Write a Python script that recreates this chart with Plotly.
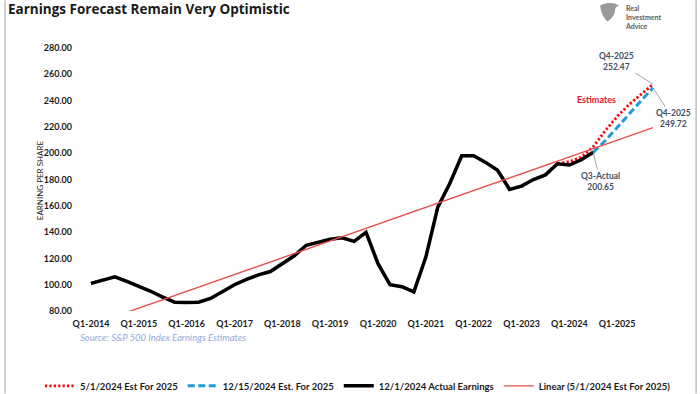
import plotly.graph_objects as go

# ---------------- data ----------------
quarters = [f"Q{q}-{y}" for y in range(2014, 2026) for q in range(1, 5)]  # Q1-2014 .. Q4-2025

actual_eps = [101, 103.5, 106, 102.5, 99, 95, 90.5, 86.7,
              86.5, 86.7, 89.5, 94.5, 100, 104, 107.5, 110,
              116, 122, 130, 132.5, 134.5, 135.7, 133, 139.8,
              116, 100, 98.5, 94.5, 121, 159, 177, 198,
              198, 193, 187, 172.5, 175, 180, 183.5, 192,
              191, 195, 200.65]

est_may_2024 = [192, 193.5, 197, 205, 217, 228, 237, 245, 252.47]      # Q4-2023 .. Q4-2025
est_dec_2024 = [200.65, 209.5, 219.5, 230, 240, 249.72]               # Q3-2024 .. Q4-2025
trend_ends = [69.4, 219.5]                                             # linear fit at Q1-2014 / Q4-2025

tick_labels = [f"Q1-{y}" for y in range(2014, 2026)]
y_ticks = [80, 100, 120, 140, 160, 180, 200, 220, 240, 260, 280]

# ---------------- layout geometry ----------------
W, H = 700, 394
L, R, T, B = 85, 29.1, 47.5, 83
PW, PH = W - L - R, H - T - B


def px(xp):
    return (xp - L) / PW


def py(yp):
    return (H - B - yp) / PH


idx = list(range(len(quarters)))
red_y = actual_eps[:len(actual_eps) - 4] + est_may_2024
red_x = idx[:len(red_y)]
blue_x = idx[len(actual_eps) - 1: len(actual_eps) - 1 + len(est_dec_2024)]

FONT = "Lato"
DARK = "#1a1a1a"
LBL = "#3F4F66"

fig = go.Figure()
fig.add_trace(go.Scatter(x=red_x, y=red_y, mode="lines", name="5/1/2024 Est For 2025",
                         line=dict(color="#FF0000", width=2.8, dash="2.2px,2.2px")))
fig.add_trace(go.Scatter(x=blue_x, y=est_dec_2024, mode="lines", name="12/15/2024 Est. For 2025",
                         line=dict(color="#1E9BDB", width=3, dash="7px,3.5px")))
fig.add_trace(go.Scatter(x=idx[:len(actual_eps)], y=actual_eps, mode="lines",
                         name="12/1/2024 Actual Earnings",
                         line=dict(color="#000000", width=3.5)))
fig.add_trace(go.Scatter(x=[idx[0], idx[-1]], y=trend_ends, mode="lines",
                         name="Linear (5/1/2024 Est For 2025)",
                         line=dict(color="#E5504A", width=1.4)))

fig.update_xaxes(range=[-0.5, 48.5], tickvals=[i for i in idx if i % 4 == 0], ticktext=tick_labels,
                 showgrid=False, zeroline=False, showline=False, ticks="", ticklabelstandoff=6,
                 tickfont=dict(family=FONT, size=9, color=DARK, weight="bold"))
fig.update_yaxes(range=[80, 280], tickvals=y_ticks, ticktext=[f"{v:.2f}" for v in y_ticks],
                 showgrid=False, zeroline=False, showline=False, ticks="", ticklabelstandoff=12,
                 tickfont=dict(family=FONT, size=9, color=DARK, weight="bold"))

ann = [
    dict(text="EARNING PER SHARE", x=px(40), y=py(180), xref="paper", yref="paper", textangle=-90,
         xanchor="center", yanchor="middle", showarrow=False,
         font=dict(family=FONT, size=8, color=DARK)),
    dict(text="Source: S&P 500 Index Earnings Estimates", x=px(78), y=py(338), xref="paper", yref="paper",
         xanchor="left", yanchor="middle", showarrow=False,
         font=dict(family=FONT, size=9.5, color="#8FAADC", style="italic")),
    dict(text="Estimates", x=42.3, y=240.5, xref="x", yref="y", showarrow=False,
         xanchor="center", yanchor="middle",
         font=dict(family=FONT, size=9, color="#E8102A", weight="bold")),
    dict(text="Q4-2025<br>252.47", x=idx[-1], y=est_may_2024[-1], xref="x", yref="y",
         ax=-37, ay=-23, showarrow=True, arrowhead=0, arrowwidth=0.8, arrowcolor="#8C8C8C",
         font=dict(family=FONT, size=8.5, color=LBL, weight="bold")),
    dict(text="Q4-2025<br>249.72", x=idx[-1], y=est_dec_2024[-1], xref="x", yref="y",
         ax=20, ay=31, showarrow=True, arrowhead=0, arrowwidth=0.8, arrowcolor="#8C8C8C",
         font=dict(family=FONT, size=8.5, color=LBL, weight="bold")),
    dict(text="Q3-Actual<br>200.65", x=len(actual_eps) - 1, y=actual_eps[-1], xref="x", yref="y",
         ax=7, ay=29, showarrow=True, arrowhead=0, arrowwidth=0.8, arrowcolor="#8C8C8C",
         font=dict(family=FONT, size=8.5, color=LBL, weight="bold")),
    dict(text="Real<br>Investment<br>Advice", x=px(623), y=py(1), xref="paper", yref="paper",
         xanchor="left", yanchor="top", align="left", showarrow=False,
         font=dict(family=FONT, size=7, color="#5A5A5A", weight="bold")),
]

shapes = [
    dict(type="line", xref="paper", yref="paper", x0=px(5), x1=px(5), y0=py(0), y1=py(394),
         line=dict(color="#BFBFBF", width=1.5)),
    dict(type="line", xref="paper", yref="paper", x0=px(696), x1=px(696), y0=py(0), y1=py(394),
         line=dict(color="#BFBFBF", width=1.5)),
    # simple logo glyph
    dict(type="path", xref="paper", yref="paper",
         path=(f"M {px(600)},{py(5)} Q {px(610)},{py(0)} {px(619)},{py(5)} "
               f"Q {px(614)},{py(7)} {px(615)},{py(11)} Q {px(613)},{py(18)} {px(607)},{py(21)} "
               f"Q {px(601)},{py(15)} {px(600)},{py(5)} Z"),
         fillcolor="#9A9A9A", line=dict(width=0)),
]

fig.update_layout(
    width=W, height=H, margin=dict(l=L, r=R, t=T, b=B, autoexpand=False),
    paper_bgcolor="white", plot_bgcolor="white",
    title=dict(text="<b>Earnings Forecast Remain Very Optimistic</b>", x=8 / W, xanchor="left",
               y=1 - 9 / H, yanchor="middle", yref="container",
               font=dict(family="Open Sans", size=13.5, color=DARK)),
    legend=dict(orientation="h", x=px(40), xanchor="left", y=py(386), yanchor="middle",
                font=dict(family=FONT, size=9.5, color=DARK, weight="bold"),
                bgcolor="rgba(0,0,0,0)", itemwidth=30, tracegroupgap=0),
    annotations=ann, shapes=shapes, showlegend=True,
)

fig.write_html("out.html", config={"displayModeBar": False},
               post_script="document.body.style.margin='0';document.body.style.overflow='hidden';")
